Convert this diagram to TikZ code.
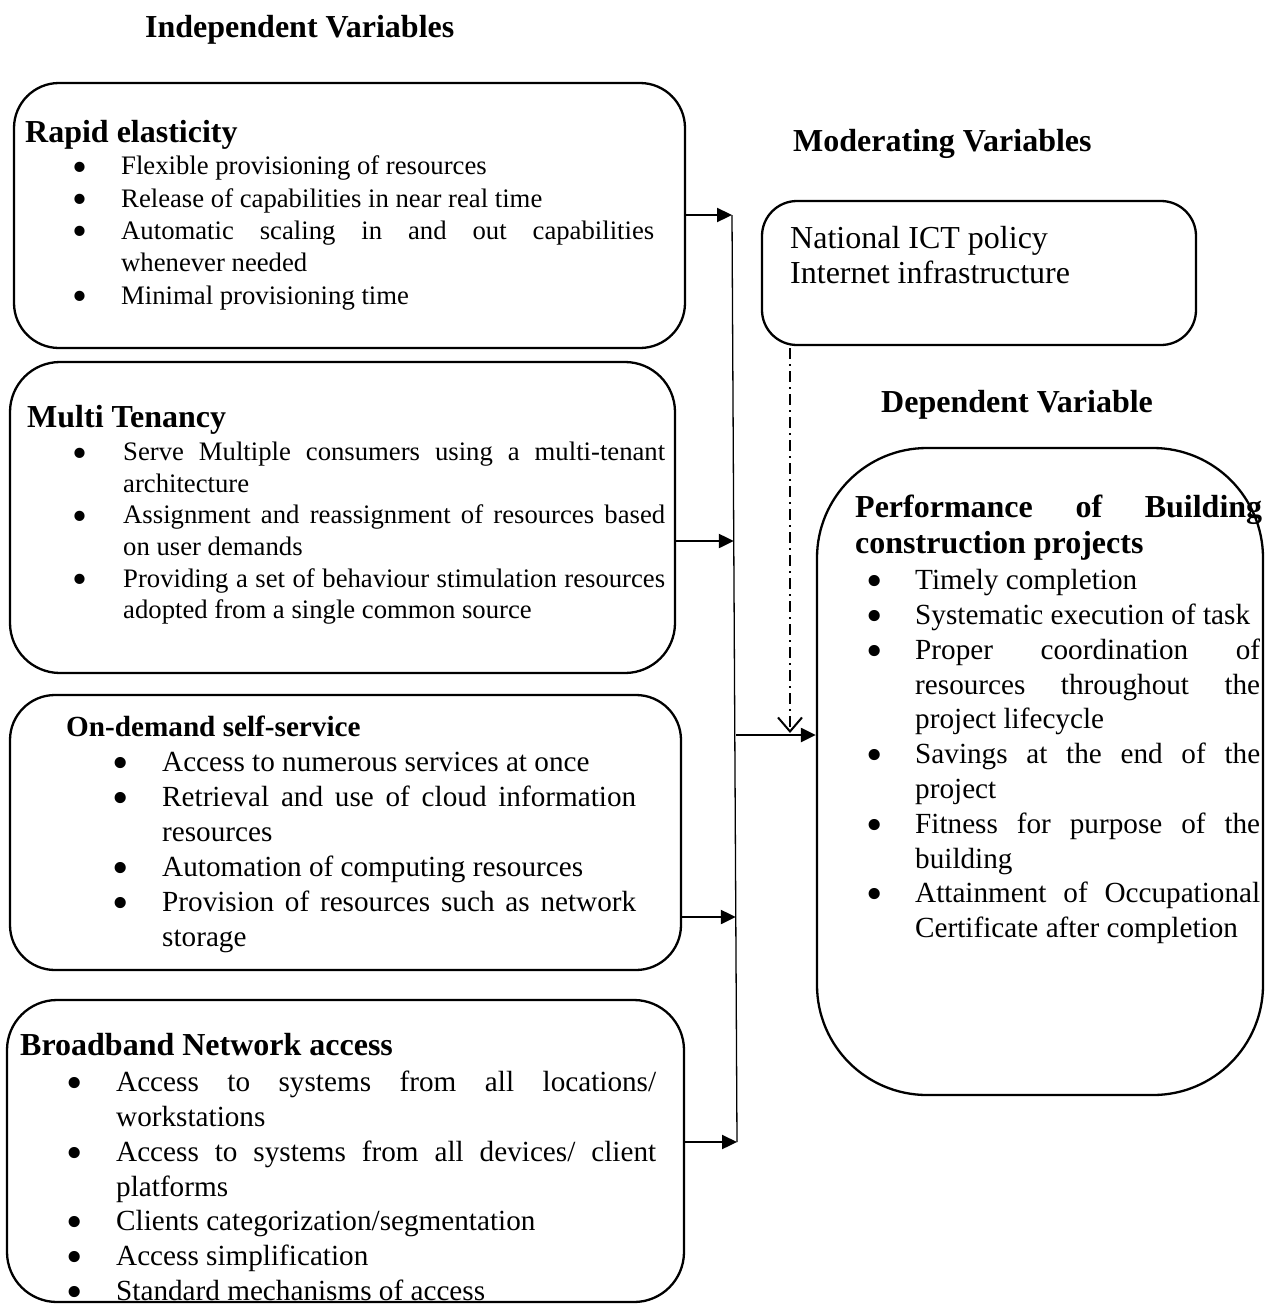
\documentclass[tikz,border=0pt]{standalone}
\usepackage{fontspec}
\setmainfont{Liberation Serif}
\usetikzlibrary{arrows.meta}
\newlength\bsep
\setlength\bsep{42pt}
\newcommand\bdot{\smash{\raisebox{-0.24em}{\scalebox{1.6}{\textbullet}}}}
\newcommand\bitem{\par\noindent\strut\llap{\makebox[0pt]{\bdot}\hspace{\bsep}}}
\hyphenpenalty=10000
\exhyphenpenalty=10000
\tolerance=9999
\tikzset{
  box/.style={draw, line width=2.3pt, rounded corners=45pt, inner sep=0pt},
  ttl/.style={font=\fontsize{32}{38}\selectfont\bfseries, anchor=base west, inner sep=0pt},
  lst/.style={anchor=north west, inner sep=0pt, align=justify},
  arr/.style={line width=2.3pt, -{Triangle[length=15pt,width=14pt]}},
  bus/.style={line width=1.3pt},
  dd/.style={line width=2pt, dash pattern=on 11pt off 5pt on 2pt off 5pt, -{Straight Barb[length=14pt,width=24pt,line width=2pt]}},
}
\begin{document}
\begin{tikzpicture}[x=1pt,y=-1pt]
\useasboundingbox (0,0) rectangle (1271,1304);

% titles
\node[ttl] (tind) at (145,37) {Independent Variables};
\node[ttl] (tmod) at (793,151) {Moderating Variables};
\node[ttl] (tdep) at (881,412) {Dependent Variable};

% boxes
\node[box, minimum width=671pt, minimum height=265pt] (rapid) at (349.5,215.5) {};
\node[box, minimum width=665pt, minimum height=311pt, rounded corners=50pt] (multi) at (342.5,517.5) {};
\node[box, minimum width=671pt, minimum height=275pt] (ondem) at (345.5,832.5) {};
\node[box, minimum width=677pt, minimum height=302pt, rounded corners=50pt] (broad) at (345.5,1151) {};
\node[box, minimum width=434pt, minimum height=144pt, rounded corners=35pt] (mod) at (979,273) {};
\node[box, minimum width=446pt, minimum height=647pt, rounded corners=110pt] (dep) at (1040,771.5) {};

% Rapid elasticity
\node[ttl] (hrapid) at (25,142) {Rapid elasticity};
\node[lst, text width=533pt, font=\fontsize{26.7}{32.3}\selectfont] (lrapid) at (121,142.4) {\setlength\bsep{41.5pt}%
\bitem Flexible provisioning of resources
\bitem Release of capabilities in near real time
\bitem Automatic scaling in and out capabilities\linebreak whenever needed
\bitem Minimal provisioning time\par};

% Multi Tenancy
\node[ttl] (hmulti) at (27,427) {Multi Tenancy};
\node[lst, text width=542pt, font=\fontsize{26.7}{31.6}\selectfont] (lmulti) at (123,428.9) {\setlength\bsep{43.5pt}%
\bitem Serve Multiple consumers using a multi-tenant\linebreak architecture
\bitem Assignment and reassignment of resources based\linebreak on user demands
\bitem Providing a set of behaviour stimulation resources\linebreak adopted from a single common source\par};

% On-demand self-service
\node[ttl, font=\fontsize{29.2}{35}\selectfont\bfseries] (hondem) at (66,736) {On-demand self-service};
\node[lst, text width=474pt, font=\fontsize{29.2}{35}\selectfont] (londem) at (162,736.5) {%
\bitem Access to numerous services at once
\bitem Retrieval and use of cloud information\linebreak resources
\bitem Automation of computing resources
\bitem Provision of resources such as network\linebreak storage\par};

% Broadband Network access
\node[ttl] (hbroad) at (20,1055) {Broadband Network access};
\node[lst, text width=540pt, font=\fontsize{29.2}{34.7}\selectfont] (lbroad) at (116,1057) {%
\bitem Access to systems from all locations/\linebreak workstations
\bitem Access to systems from all devices/ client\linebreak platforms
\bitem Clients categorization/segmentation
\bitem Access simplification
\bitem Standard mechanisms of access\par};

% Moderating
\node[anchor=north west, inner sep=0pt, align=left, font=\fontsize{32}{35}\selectfont] (lmod) at (790,224) {\strut National ICT policy\\\strut Internet infrastructure};

% Dependent
\node[lst, text width=407pt, font=\fontsize{32}{36}\selectfont\bfseries] (hdep) at (855,491.8) {\strut Performance of Building\linebreak construction projects\par};
\node[lst, text width=345pt, font=\fontsize{29.2}{34.8}\selectfont] (ldep) at (915,554.6) {\setlength\bsep{41pt}%
\bitem Timely completion
\bitem Systematic execution of task
\bitem Proper coordination of\linebreak resources throughout the\linebreak project lifecycle
\bitem Savings at the end of the\linebreak project
\bitem Fitness for purpose of the\linebreak building
\bitem Attainment of Occupational\linebreak Certificate after completion\par};

% connectors
\coordinate (busT) at (732,215);
\coordinate (busB) at (737,1142);
\coordinate (j2) at (733.8,541);
\coordinate (j3) at (735.8,917);
\coordinate (j0) at (736,735);
\draw[bus] (busT) -- (busB);
\draw[arr] (rapid.east |- busT) -- (busT);
\draw[arr] (multi.east |- j2) -- (j2);
\draw[arr] (ondem.east |- j3) -- (j3);
\draw[arr] (broad.east |- busB) -- (busB);
\draw[arr] (j0) -- (dep.west |- j0);
\coordinate (dtop) at (790,348);
\coordinate (dtip) at (790,733);
\draw[dd] (dtop) -- (dtip);
\end{tikzpicture}
\end{document}
